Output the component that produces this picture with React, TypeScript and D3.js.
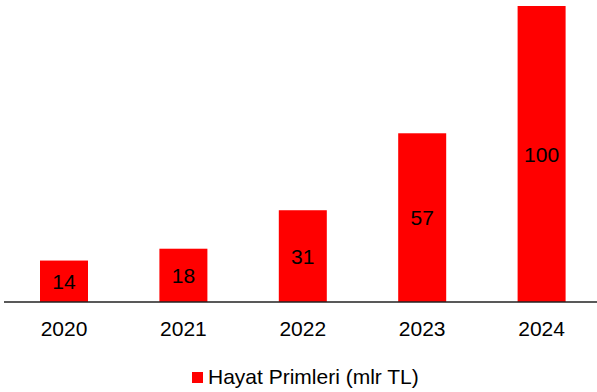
import React from "react";
import * as d3 from "d3";

const years = ["2020", "2021", "2022", "2023", "2024"];
const values = [14, 18, 31, 57, 100];
const seriesName = "Hayat Primleri (mlr TL)";

export default function App() {
  const W = 597, H = 392;
  const baseY = 302;
  const x = d3.scaleBand<string>().domain(years).range([4.3, 601.3]).paddingInner(0.598).paddingOuter(0.299);
  const y = d3.scaleLinear().domain([0, 100]).range([baseY, 6]);
  const font = "Arial, 'Liberation Sans', sans-serif";
  return (
    <svg width={W} height={H} style={{ position: "absolute", left: 0, top: 0, background: "#fff" }} fontFamily={font}>
      {years.map((yr, i) => {
        const bx = x(yr)!;
        const top = y(values[i]);
        return (
          <g key={yr}>
            <rect x={bx} y={top} width={x.bandwidth()} height={baseY - top} fill="#FF0000" />
            <text x={bx + x.bandwidth() / 2} y={(top + baseY) / 2} textAnchor="middle" dominantBaseline="central" fontSize={21} fill="#000">{values[i]}</text>
            <text x={bx + x.bandwidth() / 2} y={336} textAnchor="middle" fontSize={21} fill="#000">{yr}</text>
          </g>
        );
      })}
      <line x1={4} x2={597} y1={baseY} y2={baseY} stroke="#222" strokeWidth={1.5} />
      <rect x={192} y={372} width={11} height={11} fill="#FF0000" />
      <text x={208} y={384} fontSize={21} fill="#000">{seriesName}</text>
    </svg>
  );
}
